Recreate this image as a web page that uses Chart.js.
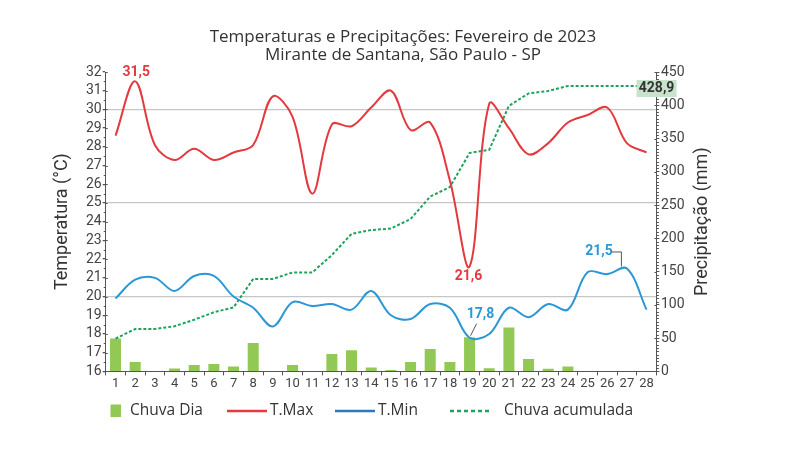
<!DOCTYPE html>
<html>
<head>
<meta charset="utf-8">
<script src="https://cdn.jsdelivr.net/npm/chart.js@4/dist/chart.umd.min.js"></script>
<style>
html,body{margin:0;padding:0;background:#fff;}
#wrap{position:relative;width:806px;height:461px;}
</style>
</head>
<body>
<div id="wrap"><canvas id="c" width="806" height="461"></canvas></div>
<script>
// ---- data ----
const dias = ['1','2','3','4','5','6','7','8','9','10','11','12','13','14','15','16','17','18','19','20','21','22','23','24','25','26','27','28'];
const tMax = [28.6, 31.5, 28.1, 27.3, 27.9, 27.3, 27.7, 28.1, 30.7, 29.6, 25.5, 29.2, 29.1, 30.1, 31.0, 28.9, 29.3, 26.2, 21.6, 30.3, 29.0, 27.6, 28.2, 29.3, 29.7, 30.1, 28.2, 27.7];
const tMin = [19.9, 20.9, 21.0, 20.3, 21.1, 21.1, 20.0, 19.4, 18.4, 19.7, 19.5, 19.6, 19.3, 20.3, 19.0, 18.8, 19.6, 19.4, 17.8, 18.0, 19.4, 18.9, 19.6, 19.3, 21.3, 21.2, 21.5, 19.3];
const chuvaDia = [49.4, 14.3, 0, 4.2, 9.8, 11.2, 7.3, 42.8, 0, 9.7, 0, 26.2, 31.8, 5.8, 2.2, 14.3, 33.8, 14.3, 51.2, 4.8, 65.9, 18.8, 3.8, 7.3, 0, 0, 0, 0];
const chuvaAcumulada = [49.4, 63.7, 63.7, 67.9, 77.7, 88.9, 96.2, 139.0, 139.0, 148.7, 148.7, 174.9, 206.7, 212.5, 214.7, 229.0, 262.8, 277.1, 328.3, 333.1, 399.0, 417.8, 421.6, 428.9, 428.9, 428.9, 428.9, 428.9];
const tempMin = 16, tempMax = 32, tempStep = 1;
const precMin = 0, precMax = 450, precStep = 50;
const titulo1 = 'Temperaturas e Precipitações: Fevereiro de 2023';
const titulo2 = 'Mirante de Santana, São Paulo - SP';

// ---- styles ----
const RED = '#e3393f', BLUE = '#2b97d7', BLUE_LEG = '#2f78bc', GREEN = '#92c955', GREEN_D = '#1fa35c';
const NARROW = "Roboto, 'Liberation Sans', sans-serif";
const UI = "'Open Sans','Noto Sans',sans-serif";
const fmt = v => v.toFixed(1).replace('.', ',');

const decor = {
  id: 'decor',
  afterDatasetsDraw(chart) {
    const c = chart.ctx;
    const ys = chart.scales.y, y1 = chart.scales.y1;
    const L = chart.chartArea.left, R = chart.chartArea.right;
    c.save();
    // minor ticks + inward part of major ticks
    c.strokeStyle = '#555'; c.lineWidth = 1;
    c.beginPath();
    for (let v = tempMin; v <= tempMax; v += tempStep / 2) {
      const p = Math.round(ys.getPixelForValue(v)) + 0.5;
      if (Number.isInteger(v)) { c.moveTo(L, p); c.lineTo(L + 2, p); }
      else { c.moveTo(L - 2, p); c.lineTo(L, p); }
    }
    for (let v = precMin; v <= precMax; v += precStep / 10) {
      const p = Math.round(y1.getPixelForValue(v)) + 0.5;
      if (v % precStep === 0) { c.moveTo(R - 2, p); c.lineTo(R, p); }
      else { c.moveTo(R, p); c.lineTo(R + 2.5, p); }
    }
    c.stroke();

    // data labels
    const mMax = chart.getDatasetMeta(0).data, mMin = chart.getDatasetMeta(1).data, mAc = chart.getDatasetMeta(2).data;
    const iA = tMax.indexOf(Math.max(...tMax));
    const iB = tMax.indexOf(Math.min(...tMax));
    const iC = tMin.indexOf(Math.min(...tMin));
    const iD = tMin.indexOf(Math.max(...tMin));
    c.font = "bold 14px " + NARROW;
    c.textAlign = 'center'; c.textBaseline = 'middle';
    c.fillStyle = RED;
    c.fillText(fmt(tMax[iA]), mMax[iA].x + 1, mMax[iA].y - 9);
    c.fillText(fmt(tMax[iB]), mMax[iB].x - 1, mMax[iB].y + 10);
    c.fillStyle = BLUE;
    const pC = mMin[iC];
    c.fillText(fmt(tMin[iC]), pC.x + 11, pC.y - 23);
    const pD = mMin[iD];
    c.fillText(fmt(tMin[iD]), pD.x - 28, pD.y - 17);
    c.strokeStyle = '#555'; c.lineWidth = 1;
    c.beginPath();
    c.moveTo(pC.x + 7, pC.y - 14); c.lineTo(pC.x + 1, pC.y - 2);
    c.moveTo(pD.x - 15, pD.y - 16.5); c.lineTo(pD.x - 5.5, pD.y - 16.5); c.lineTo(pD.x - 5.5, pD.y - 2);
    c.stroke();
    // final accumulated label box
    const last = chuvaAcumulada.length - 1, pE = mAc[last];
    c.fillStyle = '#c8e3cb';
    c.fillRect(pE.x - 10, pE.y - 6, 40, 17);
    c.fillStyle = '#333';
    c.font = "bold 14px " + NARROW;
    c.fillText(fmt(chuvaAcumulada[last]), pE.x + 10, pE.y + 2.5);
    c.restore();
  },
  afterDraw(chart) {
    const c = chart.ctx;
    const A = chart.chartArea;
    c.save();
    // title
    c.fillStyle = '#333'; c.textAlign = 'center'; c.textBaseline = 'alphabetic';
    c.font = "17px " + UI;
    c.fillText(titulo1, 403, 42);
    c.fillText(titulo2, 403, 60);
    // right axis title (reads bottom to top)
    c.save();
    c.translate(702, (A.top + A.bottom) / 2);
    c.rotate(-Math.PI / 2);
    c.font = "18px " + NARROW; c.textBaseline = 'middle';
    c.fillText('Precipitação (mm)', 0, 0);
    c.restore();
    // legend
    const ly = 411;
    c.font = "15.5px " + UI; c.textAlign = 'left'; c.textBaseline = 'middle';
    c.fillStyle = GREEN; c.fillRect(110.5, 404.5, 10.5, 12.5);
    c.fillStyle = '#333'; c.fillText(chart.data.datasets[3].label, 130, ly);
    c.lineWidth = 2.5;
    c.strokeStyle = RED; c.beginPath(); c.moveTo(227, ly); c.lineTo(267, ly); c.stroke();
    c.fillText(chart.data.datasets[0].label, 270, ly);
    c.strokeStyle = BLUE_LEG; c.beginPath(); c.moveTo(335, ly); c.lineTo(375, ly); c.stroke();
    c.fillText(chart.data.datasets[1].label, 378, ly);
    c.strokeStyle = GREEN_D; c.setLineDash([4, 3]); c.beginPath(); c.moveTo(450, ly); c.lineTo(492, ly); c.stroke();
    c.setLineDash([]);
    c.fillText(chart.data.datasets[2].label, 504, ly);
    c.restore();
  }
};

new Chart(document.getElementById('c'), {
  data: {
    labels: dias,
    datasets: [
      {type: 'line', label: 'T.Max', data: tMax, yAxisID: 'y', borderColor: RED, borderWidth: 2, pointRadius: 0, tension: 0.35, order: 0},
      {type: 'line', label: 'T.Min', data: tMin, yAxisID: 'y', borderColor: BLUE, borderWidth: 2, pointRadius: 0, tension: 0.35, order: 1},
      {type: 'line', label: 'Chuva acumulada', data: chuvaAcumulada, yAxisID: 'y1', borderColor: GREEN_D, borderWidth: 2, borderDash: [3, 2], pointRadius: 0, tension: 0, order: 2},
      {type: 'bar', label: 'Chuva Dia', data: chuvaDia, yAxisID: 'y1', backgroundColor: GREEN, barPercentage: 0.56, categoryPercentage: 1, order: 3}
    ]
  },
  options: {
    responsive: false, animation: false, devicePixelRatio: 1,
    layout: {padding: {top: 72, left: 0, right: 0, bottom: 0}},
    plugins: {legend: {display: false}, title: {display: false}, tooltip: {enabled: false}},
    scales: {
      x: {
        type: 'category', offset: true,
        grid: {display: true, drawOnChartArea: false, offset: true, tickLength: 4, color: '#555'},
        border: {color: '#555'},
        ticks: {font: {family: NARROW, size: 13}, color: '#444', padding: 1, maxRotation: 0, autoSkip: false},
        afterFit(s) { s.height = 89.6; }
      },
      y: {
        position: 'left', min: tempMin, max: tempMax,
        ticks: {stepSize: tempStep, font: {family: NARROW, size: 14, lineHeight: 1}, color: '#444', padding: 1, autoSkip: false},
        grid: {
          color: c => (c.tick && c.tick.value % 5 === 0 && c.tick.value > tempMin && c.tick.value < tempMax) ? '#c6c6c6' : 'rgba(0,0,0,0)',
          lineWidth: 1.3, tickLength: 3, tickColor: '#555'
        },
        border: {color: '#555'},
        title: {display: true, text: 'Temperatura (°C)', font: {family: NARROW, size: 18}, color: '#333', padding: {top: 52, bottom: 0}},
        afterFit(s) { s.width = 105.7; }
      },
      y1: {
        position: 'right', min: precMin, max: precMax,
        ticks: {stepSize: precStep, font: {family: NARROW, size: 14}, color: '#444', padding: 1.5, autoSkip: false},
        grid: {drawOnChartArea: false, tickLength: 3, color: '#555'},
        border: {color: '#555'},
        afterFit(s) { s.width = 149.6; }
      }
    }
  },
  plugins: [decor]
});
</script>
</body>
</html>
